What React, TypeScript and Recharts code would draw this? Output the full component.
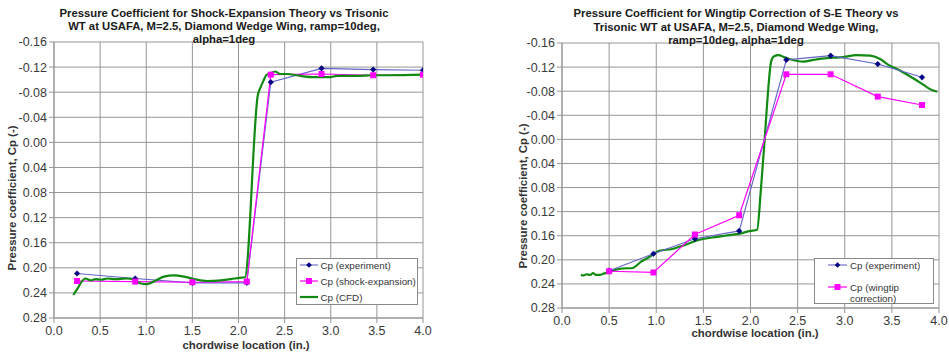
import React from 'react';
import { LineChart, Line, XAxis, YAxis, CartesianGrid } from 'recharts';

const FONT = '"Liberation Sans", Arial, Helvetica, sans-serif';

// Axis ticks
const X_TICKS = [0, 0.5, 1, 1.5, 2, 2.5, 3, 3.5, 4];
const Y_TICKS = [-0.16, -0.12, -0.08, -0.04, 0, 0.04, 0.08, 0.12, 0.16, 0.2, 0.24, 0.28];

// Left chart: Shock-Expansion theory vs Trisonic WT
const L_EXP_X = [0.25, 0.88, 1.5, 2.09, 2.35, 2.9, 3.46, 4.0];
const L_EXP_CP = [0.209, 0.217, 0.224, 0.224, -0.096, -0.118, -0.116, -0.115];
const L_SE_X = [0.25, 0.88, 1.5, 2.09, 2.35, 2.9, 3.46, 4.0];
const L_SE_CP = [0.221, 0.222, 0.223, 0.222, -0.108, -0.109, -0.107, -0.108];
const L_CFD_X = [0.21, 0.26, 0.3, 0.34, 0.4, 0.45, 0.51, 0.58, 0.67, 0.78, 0.87, 0.94, 1.01, 1.08, 1.19, 1.3, 1.41, 1.52, 1.66, 1.81, 1.92, 2.01, 2.07, 2.21, 2.24, 2.27, 2.3, 2.36, 2.4, 2.45, 2.52, 2.67, 2.81, 2.99, 3.07, 3.28, 3.46, 3.64, 4.0];
const L_CFD_CP = [0.243, 0.232, 0.222, 0.217, 0.22, 0.218, 0.219, 0.217, 0.218, 0.217, 0.219, 0.225, 0.226, 0.222, 0.214, 0.212, 0.214, 0.218, 0.221, 0.22, 0.218, 0.216, 0.215, -0.076, -0.088, -0.098, -0.107, -0.111, -0.113, -0.109, -0.109, -0.106, -0.104, -0.104, -0.106, -0.106, -0.107, -0.107, -0.108];

// Right chart: wingtip correction of S-E theory
const R_EXP_X = [0.5, 0.97, 1.41, 1.88, 2.38, 2.85, 3.35, 3.82];
const R_EXP_CP = [0.218, 0.19, 0.165, 0.152, -0.132, -0.139, -0.125, -0.103];
const R_WT_X = [0.5, 0.97, 1.41, 1.88, 2.38, 2.85, 3.35, 3.82];
const R_WT_CP = [0.219, 0.221, 0.158, 0.126, -0.108, -0.108, -0.071, -0.057];
const R_CFD_X = [0.2, 0.23, 0.26, 0.3, 0.33, 0.36, 0.4, 0.44, 0.49, 0.58, 0.69, 0.74, 0.84, 0.93, 1.03, 1.17, 1.31, 1.45, 1.59, 1.73, 1.87, 2.0, 2.07, 2.11, 2.15, 2.17, 2.22, 2.25, 2.3, 2.35, 2.42, 2.56, 2.67, 2.81, 2.95, 3.13, 3.27, 3.38, 3.45, 3.59, 3.73, 3.84, 3.91, 3.98];
const R_CFD_CP = [0.225, 0.226, 0.224, 0.225, 0.222, 0.225, 0.225, 0.223, 0.221, 0.216, 0.214, 0.214, 0.203, 0.195, 0.185, 0.182, 0.175, 0.167, 0.163, 0.16, 0.157, 0.152, 0.15, 0.084, 0.001, -0.045, -0.13, -0.138, -0.14, -0.137, -0.133, -0.129, -0.132, -0.135, -0.136, -0.14, -0.139, -0.133, -0.125, -0.114, -0.101, -0.09, -0.083, -0.079];

// Text
const L_TITLE = [
  'Pressure Coefficient for Shock-Expansion Theory vs Trisonic',
  'WT at USAFA, M=2.5, Diamond Wedge Wing, ramp=10deg,',
  'alpha=1deg',
];
const R_TITLE = [
  'Pressure Coefficient for Wingtip Correction of S-E Theory vs',
  'Trisonic WT at USAFA, M=2.5, Diamond Wedge Wing,',
  'ramp=10deg, alpha=1deg',
];
const Y_LABEL = 'Pressure coefficient, Cp (-)';
const X_LABEL = 'chordwise location (in.)';

const EXP_LINE = '#6464c8';
const EXP_MARK = '#000080';
const MAG = '#ff00ff';
const GREEN = '#108a10';
const GRID = '#969696';

const zip = (xs: number[], ys: number[]) => xs.map((x, i) => ({ x, cp: ys[i] }));

const Diamond = (props: any) => {
  const { cx, cy, index } = props;
  if (cx == null || cy == null) return <g key={`d${index}`} />;
  const r = 2.8;
  return (
    <path
      key={`d${index}`}
      d={`M${cx},${cy - r} L${cx + r},${cy} L${cx},${cy + r} L${cx - r},${cy} Z`}
      fill={EXP_MARK}
      stroke={EXP_MARK}
      strokeWidth={0.5}
    />
  );
};

const Square = (props: any) => {
  const { cx, cy, index } = props;
  if (cx == null || cy == null) return <g key={`s${index}`} />;
  const r = 3;
  return <rect key={`s${index}`} x={cx - r} y={cy - r} width={2 * r} height={2 * r} fill={MAG} />;
};

const tickStyle = { fontSize: 12.5, fill: '#3a3a3a', fontFamily: FONT };

function Panel(props: {
  width: number;
  height: number;
  margin: any;
  yWidth: number;
  xHeight: number;
  children: any;
}) {
  const { width, height, margin, yWidth, xHeight, children } = props;
  return (
    <LineChart width={width} height={height} margin={margin}>
      <CartesianGrid stroke={GRID} strokeWidth={1} />
      <XAxis
        dataKey="x"
        type="number"
        domain={[0, 4]}
        ticks={X_TICKS}
        interval={0}
        allowDataOverflow
        tickFormatter={(v: number) => v.toFixed(1)}
        height={xHeight}
        tick={tickStyle}
        tickSize={5}
        tickMargin={3}
        stroke={GRID}
      />
      <YAxis
        type="number"
        domain={[-0.16, 0.28]}
        reversed
        ticks={Y_TICKS}
        interval={0}
        allowDataOverflow
        tickFormatter={(v: number) => v.toFixed(2)}
        width={yWidth}
        tick={tickStyle}
        tickSize={5}
        tickMargin={2}
        stroke={GRID}
      />
      {children}
    </LineChart>
  );
}

export default function App() {
  const lExp = zip(L_EXP_X, L_EXP_CP);
  const lSe = zip(L_SE_X, L_SE_CP);
  const lCfd = zip(L_CFD_X, L_CFD_CP);
  const rExp = zip(R_EXP_X, R_EXP_CP);
  const rWt = zip(R_WT_X, R_WT_CP);
  const rCfd = zip(R_CFD_X, R_CFD_CP);

  const titleProps = {
    textAnchor: 'middle' as const,
    dominantBaseline: 'central' as const,
    fontWeight: 'bold',
    fontSize: 11.3,
    fill: '#1a1a1a',
    fontFamily: FONT,
  };
  const labelProps = { ...titleProps, fontSize: 11.4, fill: '#333' };
  const legendText = {
    fontSize: 9.8,
    fill: '#333',
    fontFamily: FONT,
    dominantBaseline: 'central' as const,
  };

  return (
    <div style={{ position: 'absolute', left: 0, top: 0, width: 949, height: 354, background: '#fff' }}>
      <div style={{ position: 'absolute', left: 0, top: 0 }}>
        <Panel width={475} height={354} margin={{ top: 42, right: 52, bottom: 0, left: 0 }} yWidth={54} xHeight={36}>
          <Line data={lExp} dataKey="cp" stroke={EXP_LINE} strokeWidth={1.1} dot={Diamond} activeDot={false} isAnimationActive={false} />
          <Line data={lSe} dataKey="cp" stroke={MAG} strokeWidth={1.2} dot={Square} activeDot={false} isAnimationActive={false} />
          <Line data={lCfd} type="monotone" dataKey="cp" stroke={GREEN} strokeWidth={2.2} dot={false} activeDot={false} isAnimationActive={false} />
        </Panel>
      </div>
      <div style={{ position: 'absolute', left: 475, top: 0 }}>
        <Panel width={474} height={354} margin={{ top: 43, right: 10, bottom: 0, left: 0 }} yWidth={87} xHeight={46}>
          <Line data={rCfd} type="monotone" dataKey="cp" stroke={GREEN} strokeWidth={2.2} dot={false} activeDot={false} isAnimationActive={false} />
          <Line data={rExp} dataKey="cp" stroke={EXP_LINE} strokeWidth={1.1} dot={Diamond} activeDot={false} isAnimationActive={false} />
          <Line data={rWt} dataKey="cp" stroke={MAG} strokeWidth={1.2} dot={Square} activeDot={false} isAnimationActive={false} />
        </Panel>
      </div>
      <svg width={949} height={354} style={{ position: 'absolute', left: 0, top: 0, pointerEvents: 'none' }}>
        {L_TITLE.map((t, i) => (
          <text key={`lt${i}`} x={224} y={13 + i * 13} {...titleProps}>{t}</text>
        ))}
        {R_TITLE.map((t, i) => (
          <text key={`rt${i}`} x={736} y={13 + i * 13.5} {...titleProps}>{t}</text>
        ))}
        <text x={246} y={345} {...labelProps}>{X_LABEL}</text>
        <text x={755} y={333} {...labelProps}>{X_LABEL}</text>
        <text transform="translate(12,198) rotate(-90)" {...labelProps}>{Y_LABEL}</text>
        <text transform="translate(523,196) rotate(-90)" {...labelProps}>{Y_LABEL}</text>

        {/* left legend */}
        <rect x={296.5} y={258.5} width={121} height={46} fill="#fff" stroke="#8a8a8a" strokeWidth={1} />
        <line x1={300} y1={265} x2={318} y2={265} stroke={EXP_LINE} strokeWidth={1.1} />
        <path d="M309,262.2 L311.8,265 L309,267.8 L306.2,265 Z" fill={EXP_MARK} />
        <text x={320.5} y={265.5} {...legendText}>Cp (experiment)</text>
        <line x1={300} y1={281} x2={318} y2={281} stroke={MAG} strokeWidth={1.2} />
        <rect x={306} y={278} width={6} height={6} fill={MAG} />
        <text x={320.5} y={281.5} {...legendText}>Cp (shock-expansion)</text>
        <line x1={300} y1={297} x2={318} y2={297} stroke={GREEN} strokeWidth={2.2} />
        <text x={320.5} y={297.5} {...legendText}>Cp (CFD)</text>

        {/* right legend */}
        <rect x={814.5} y={258.5} width={119} height={45} fill="#fff" stroke="#8a8a8a" strokeWidth={1} />
        <line x1={828} y1={265} x2={847} y2={265} stroke={EXP_LINE} strokeWidth={1.1} />
        <path d="M837.5,262.2 L840.3,265 L837.5,267.8 L834.7,265 Z" fill={EXP_MARK} />
        <text x={850} y={265.5} {...legendText}>Cp (experiment)</text>
        <line x1={828} y1={287} x2={847} y2={287} stroke={MAG} strokeWidth={1.2} />
        <rect x={834.5} y={284} width={6} height={6} fill={MAG} />
        <text x={850} y={287.5} {...legendText}>Cp (wingtip</text>
        <text x={850} y={298.5} {...legendText}>correction)</text>
      </svg>
    </div>
  );
}
